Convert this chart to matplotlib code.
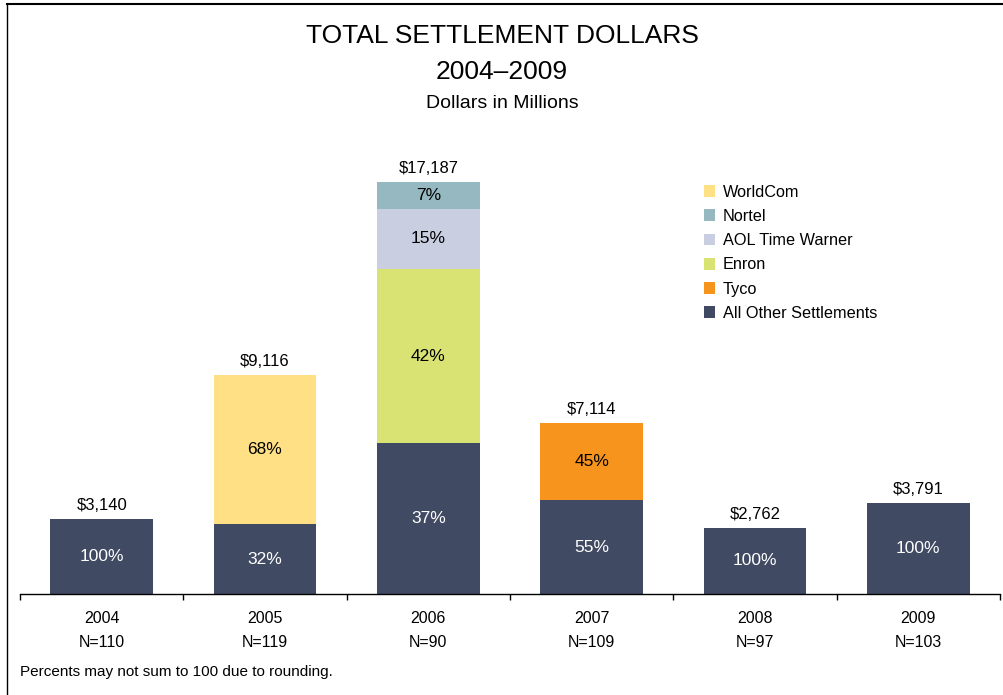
import matplotlib
matplotlib.use("Agg")
import matplotlib.pyplot as plt
from matplotlib.patches import Patch
from matplotlib.lines import Line2D
import numpy as np

years = ["2004", "2005", "2006", "2007", "2008", "2009"]
counts = [110, 119, 90, 109, 97, 103]

# settlement dollars in millions, by component
other = [3140, 2917, 6288, 3913, 2762, 3791]
tyco = [0, 0, 0, 3201, 0, 0]
enron = [0, 0, 7278, 0, 0, 0]
aol = [0, 0, 2503, 0, 0, 0]
nortel = [0, 0, 1118, 0, 0, 0]
worldcom = [0, 6199, 0, 0, 0, 0]

series = [
    ("All Other Settlements", other, "#414A63", "white"),
    ("Tyco", tyco, "#F7941E", "black"),
    ("Enron", enron, "#D9E374", "black"),
    ("AOL Time Warner", aol, "#C9CFE0", "black"),
    ("Nortel", nortel, "#96B8C0", "black"),
    ("WorldCom", worldcom, "#FFE085", "black"),
]

REG = ["Liberation Sans", "DejaVu Sans"]

fig = plt.figure(figsize=(10.04, 6.95), dpi=100)
ax = fig.add_axes([20 / 1004, 101 / 695, 980 / 1004, 464 / 695])

x = np.arange(len(years))
totals = np.sum([s[1] for s in series], axis=0)
bottom = np.zeros(len(years))
width = 0.63
for name, vals, color, tcol in series:
    vals = np.array(vals, dtype=float)
    ax.bar(x, vals, width, bottom=bottom, color=color, edgecolor="none")
    for i, v in enumerate(vals):
        if v > 0:
            pct = round(100 * v / totals[i])
            ax.text(x[i], bottom[i] + v / 2, f"{pct}%", ha="center", va="center",
                    color=tcol, fontsize=12.5, family=REG)
    bottom += vals

for i, t in enumerate(totals):
    ax.text(x[i], t + 250, f"${int(t):,}", ha="center", va="bottom",
            fontsize=12, family=REG)

ax.set_xlim(-0.5, len(years) - 0.5)
ax.set_ylim(0, 19357)
for sp in ["top", "right", "left"]:
    ax.spines[sp].set_visible(False)
ax.spines["bottom"].set_linewidth(1.0)
ax.set_yticks([])
ax.set_xticks(x)
ax.set_xticklabels([f"{y}\nN={n}" for y, n in zip(years, counts)],
                   family=REG, fontsize=11.5, linespacing=1.75)
ax.tick_params(axis="x", which="major", length=0, pad=12)
ax.set_xticks(np.arange(-0.5, len(years)), minor=True)
ax.tick_params(axis="x", which="minor", length=4, width=1.0, direction="out")

# legend
order = ["WorldCom", "Nortel", "AOL Time Warner", "Enron", "Tyco", "All Other Settlements"]
cmap = {s[0]: s[2] for s in series}
handles = [Patch(facecolor=cmap[n], edgecolor="none", label=n) for n in order]
leg = fig.legend(handles=handles, loc="upper left", bbox_to_anchor=(689 / 1004, 1 - 170 / 695),
                 frameon=False, prop={"family": REG, "size": 11.7}, handlelength=0.72,
                 handleheight=0.72, handletextpad=0.45, labelspacing=0.57)

fig.text(0.5, 1 - 36 / 695, "TOTAL SETTLEMENT DOLLARS", ha="center", va="center",
         fontsize=19, family=REG)
fig.text(0.5, 1 - 72 / 695, "2004\u20132009", ha="center", va="center",
         fontsize=19, family=REG)
fig.text(0.5, 1 - 103 / 695, "Dollars in Millions", ha="center", va="center",
         fontsize=14, family=REG)
fig.text(20 / 1004, 1 - 672 / 695, "Percents may not sum to 100 due to rounding.",
         ha="left", va="center", fontsize=11, family=REG)

# frame lines (left and top)
fig.add_artist(Line2D([7 / 1004, 7 / 1004], [0, 1 - 4 / 695], color="black", lw=1.0,
                      transform=fig.transFigure))
fig.add_artist(Line2D([7 / 1004, 1], [1 - 4 / 695, 1 - 4 / 695], color="black", lw=1.5,
                      transform=fig.transFigure))

fig.savefig("out.png", dpi=100)
